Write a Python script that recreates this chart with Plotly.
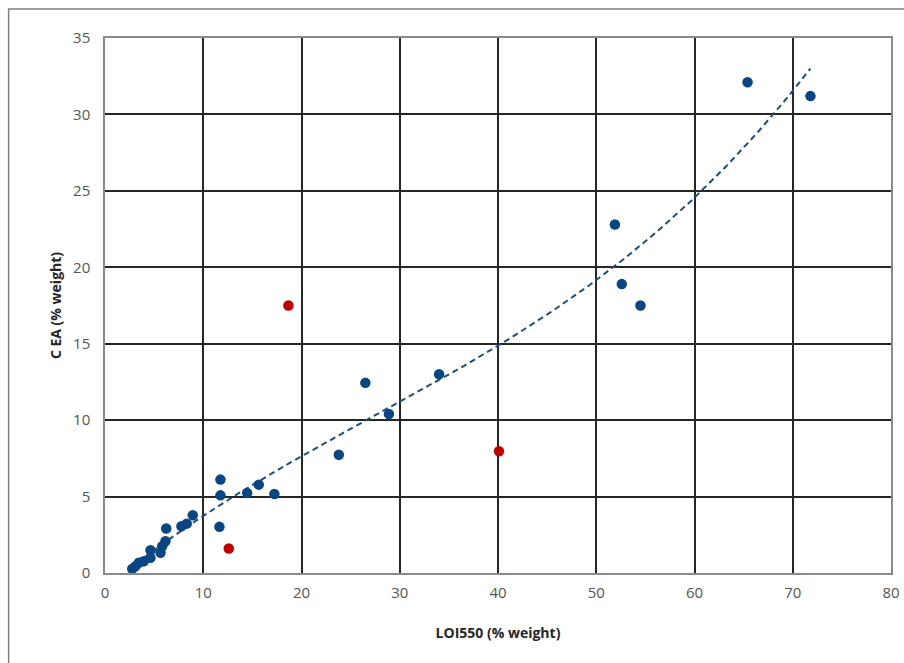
import numpy as np
import plotly.graph_objects as go

# Blue samples (LOI550 %, C EA %)
loi_blue = [65.4, 71.8, 51.9, 52.6, 54.5, 26.5, 34.0, 28.9, 23.8,
            11.75, 11.75, 14.47, 15.65, 17.24, 11.65,
            8.93, 8.32, 7.78, 6.23, 6.15, 5.82, 5.65, 4.63, 4.63,
            3.95, 3.44, 3.10, 2.77]
cea_blue = [32.1, 31.2, 22.8, 18.9, 17.5, 12.44, 13.0, 10.4, 7.74,
            6.11, 5.08, 5.24, 5.78, 5.17, 3.02,
            3.78, 3.23, 3.06, 2.91, 2.08, 1.75, 1.32, 1.49, 0.99,
            0.77, 0.67, 0.44, 0.27]

# Red outliers
loi_red = [18.67, 40.1, 12.6]
cea_red = [17.5, 7.96, 1.6]

x_ticks = [0, 10, 20, 30, 40, 50, 60, 70, 80]
y_ticks = [0, 5, 10, 15, 20, 25, 30, 35]

# Polynomial (order 3) trendline fitted to the blue samples
coef = np.polyfit(loi_blue, cea_blue, 3)
xt = np.linspace(min(loi_blue) - 0.4, max(loi_blue), 200)
yt = np.polyval(coef, xt)

fig = go.Figure()
fig.add_trace(go.Scatter(x=xt, y=yt, mode="lines",
                         line=dict(color="#1f4e79", width=2, dash="6px,4px"),
                         hoverinfo="skip", showlegend=False))
fig.add_trace(go.Scatter(x=loi_blue, y=cea_blue, mode="markers",
                         marker=dict(color="#0b4682", size=10.5),
                         showlegend=False))
fig.add_trace(go.Scatter(x=loi_red, y=cea_red, mode="markers",
                         marker=dict(color="#c00000", size=10.5),
                         showlegend=False))

axis_common = dict(showgrid=True, gridcolor="#262626", gridwidth=1.5,
                   showline=True, linecolor="#8a8a8a", linewidth=1.5, mirror=True,
                   zeroline=False, ticks="", automargin=False,
                   tickfont=dict(family="Open Sans", size=15, color="#555555"))

fig.update_layout(
    width=904, height=663,
    margin=dict(l=104.5, r=13, t=38, b=89.5),
    paper_bgcolor="white", plot_bgcolor="white",
    xaxis=dict(range=[0, 80], tickvals=x_ticks, ticklabelstandoff=5,
               title=dict(text="<b>LOI550 (% weight)</b>", standoff=27,
                          font=dict(family="Open Sans", size=14, color="#262626")),
               **axis_common),
    yaxis=dict(range=[0, 35], tickvals=y_ticks, ticklabelstandoff=10,
               title=dict(text="<b>C EA (% weight)</b>", standoff=8,
                          font=dict(family="Open Sans", size=14, color="#262626")),
               **axis_common),
    shapes=[dict(type="rect", xref="paper", yref="paper",
                 x0=-0.1226, x1=1.06, y0=-0.2, y1=1.054,
                 line=dict(color="#7f7f7f", width=1.5), layer="below")],
)

fig.write_html("out.html", config={"displayModeBar": False},
               post_script="document.body.style.margin='0';document.body.style.overflow='hidden';")
